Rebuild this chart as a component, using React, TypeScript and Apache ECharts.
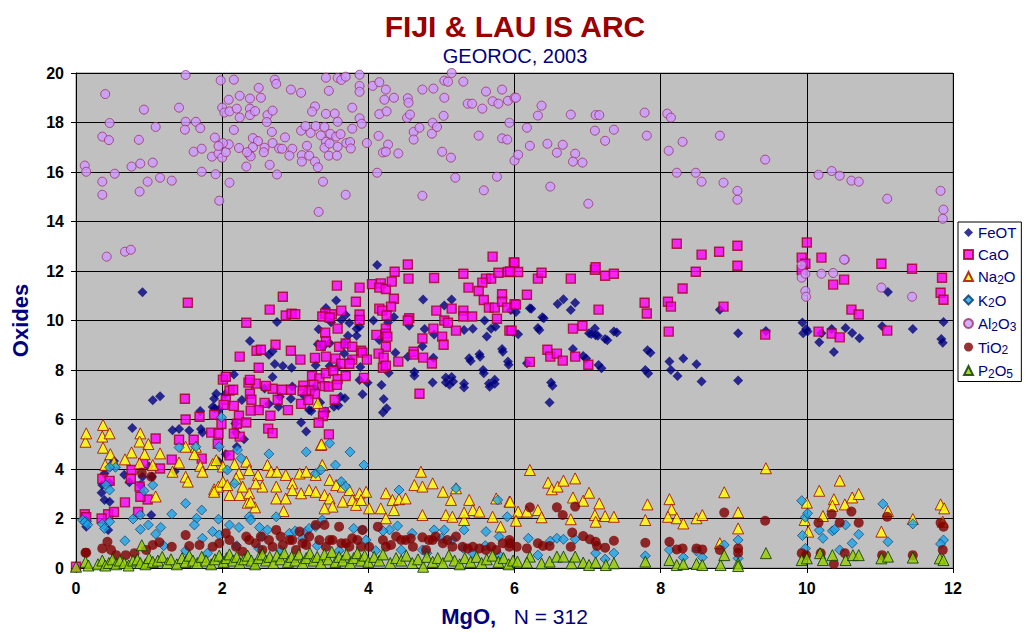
import React, { useEffect, useRef } from "react";
import * as echarts from "echarts";

const seriesNames = ["FeOT", "CaO", "Na2O", "K2O", "Al2O3", "TiO2", "P2O5"];

const feot: number[][] = [
  [0.91,11.14],[1.05,6.78],[1.15,6.94],[0.77,5.66],[1.32,5.57],[1.41,5.62],[1.55,5.56],[1.71,5.62],[1.73,5.47],[1.70,6.34],
  [1.89,6.84],[1.90,6.45],[1.92,7.04],[2.16,7.82],[2.04,7.02],[1.87,6.51],[1.96,6.41],[2.18,5.84],[2.19,5.47],[2.27,6.79],
  [2.38,9.17],[2.75,9.94],[2.69,8.76],[2.64,8.62],[2.72,8.24],[2.83,8.16],[2.95,8.09],[2.69,7.72],[2.96,7.33],[2.58,7.25],
  [2.64,6.63],[2.77,6.52],[2.94,6.84],[2.79,6.92],[3.08,5.88],[3.15,5.52],[3.22,6.34],[3.12,6.96],[3.26,7.28],[3.32,9.65],
  [3.42,10.51],[3.56,10.81],[3.49,9.93],[3.63,10.02],[3.69,10.22],[3.74,9.90],[3.84,9.67],[3.88,9.75],[3.84,9.38],[3.72,9.38],
  [3.67,9.08],[3.47,9.08],[3.38,8.94],[3.31,9.04],[3.28,8.19],[3.47,8.16],[3.58,8.11],[3.67,8.67],[3.76,8.40],[3.68,6.86],
  [3.62,6.92],[3.59,6.57],[3.53,6.52],[3.42,6.32],[3.34,6.69],[3.19,6.38],[3.92,7.02],[3.99,7.48],[3.88,7.60],[3.89,8.12],
  [4.12,12.24],[4.07,10.0],[4.35,10.14],[4.27,9.92],[4.37,8.70],[4.15,9.21],[4.18,7.39],[4.21,6.83],[4.25,6.45],[4.20,6.28],
  [4.28,7.88],[4.54,8.54],[4.63,7.92],[4.63,7.77],[4.88,7.50],[5.06,7.70],[5.14,7.72],[5.31,7.45],[5.65,7.45],[5.73,7.61],
  [5.57,8.0],[5.38,8.47],[5.52,8.64],[5.83,8.85],[5.91,8.34],[5.68,9.67],[5.74,9.75],[5.62,9.35],[5.59,10.0],[5.43,9.67],
  [5.31,9.62],[5.04,10.61],[5.14,10.85],[4.77,9.66],[4.75,10.85],[4.90,9.43],[4.89,8.50],[4.56,9.79],[4.74,8.96],
  [6.21,10.49],[6.02,10.34],[5.95,10.42],[6.38,10.13],[6.59,10.67],[6.67,10.86],[6.77,10.42],[6.83,10.72],[6.32,9.70],[6.05,9.44],
  [5.98,9.55],[7.02,9.48],[7.11,9.40],[7.10,9.68],[7.24,9.25],[7.36,9.56],[6.80,8.85],[6.94,8.57],[7.15,8.20],[7.82,8.80],
  [7.79,8.0],[8.12,8.34],[8.14,8.0],[8.23,7.76],[8.31,8.46],[8.49,8.23],[8.56,7.54],[9.06,7.58],[9.06,9.48],[6.50,7.50],
  [6.17,8.27],[8.81,10.43],[9.44,9.58],[9.94,9.92],[9.99,9.66],[9.95,9.48],[10.01,9.56],[10.20,9.48],[10.17,9.12],[10.37,8.73],
  [10.34,9.66],[10.53,9.70],[10.62,9.49],[10.72,9.28],[11.03,9.77],[11.11,11.15],[11.45,9.66],[11.84,9.25],[11.86,9.10],[11.87,9.94],
  [5.06,7.49],[5.11,7.40],[5.16,7.54],[5.31,7.29],[5.66,7.32],[5.73,7.44],[5.40,8.36],[5.53,8.54],[5.84,8.74],[5.92,8.21],
  [5.58,7.87],[6.48,6.69],[6.52,7.36],[6.23,10.47],[6.40,10.09],[6.34,9.62],[7.05,9.45],[7.14,9.38],[7.27,9.2],[7.40,9.52],
  [6.98,8.46],[7.19,8.07],[7.86,8.70],[7.83,7.86],
  [0.52,4.32],[0.39,3.82],[0.36,3.35],[0.46,3.42],[0.35,3.04],[0.39,2.75],[0.46,2.68],[0.44,1.54],[0.14,1.67],[0.66,3.77],
  [0.73,3.46],[0.91,3.69],[1.03,2.14],[1.04,3.69],[0.88,3.35],[0.46,4.09],[0.14,1.80],[1.00,4.10],[1.35,3.90],[2.05,4.60],
  [2.20,4.90],[2.30,5.20],[1.95,4.30]
];

const cao: number[][] = [
  [0.0,0.05],[1.53,10.72],[2.83,10.96],[2.65,10.44],[2.87,10.2],[2.95,10.27],[3.0,10.25],[2.33,9.91],[2.73,9.02],[2.47,8.78],
  [2.53,8.82],[2.24,8.54],[2.94,8.78],[3.07,8.42],[2.50,8.09],[3.57,11.41],[3.88,11.33],[3.83,10.76],[3.63,10.4],[3.50,10.25],
  [3.41,10.28],[3.37,10.16],[3.47,10.12],[3.88,10.24],[3.88,10.02],[3.58,9.67],[3.41,9.51],[3.42,9.15],[3.35,8.98],[3.60,8.94],
  [3.69,9.07],[3.78,8.94],[3.90,8.78],[3.92,8.70],[3.98,8.42],[3.27,8.49],[3.42,8.54],[3.55,8.46],[3.63,8.25],[3.78,8.42],
  [3.74,8.25],[3.23,7.76],[3.33,7.66],[3.42,7.87],[3.52,7.97],[3.58,7.63],[3.69,7.76],[3.94,7.68],[3.25,7.4],[3.11,7.37],
  [3.19,7.17],[3.27,7.03],[3.40,7.35],[3.46,7.33],[3.57,7.40],[3.08,6.63],[3.18,6.79],[3.54,6.80],[3.39,6.30],[3.38,6.14],
  [3.32,5.87],[3.46,5.4],[3.10,7.16],[2.94,7.2],[2.82,7.2],[2.69,7.24],[2.60,7.36],[2.46,7.45],[2.38,7.04],[2.40,6.80],
  [2.58,6.67],[2.76,6.80],[2.90,6.38],[2.50,6.38],[2.39,6.36],[2.66,6.15],[2.63,5.63],[2.69,5.45],[2.36,7.49],[2.38,7.6],
  [2.01,7.61],[2.05,7.73],[2.10,7.17],[2.15,7.2],[2.05,6.80],[2.02,6.59],[2.16,6.55],[2.23,6.15],[2.33,5.88],[2.20,5.83],
  [1.99,5.82],[1.89,6.19],[1.85,5.47],[1.95,5.43],[2.24,5.31],[2.16,5.43],[1.49,6.84],[1.50,6.0],[1.69,6.11],[1.41,5.18],
  [1.61,5.18],[1.09,5.23],[1.94,5.02],
  [4.05,11.47],[4.17,11.5],[4.15,11.33],[4.24,11.27],[4.32,11.57],[4.36,11.97],[4.54,12.26],[4.55,11.69],[4.90,11.72],[5.30,11.89],
  [5.70,12.58],[5.99,12.35],[5.61,11.69],[5.68,11.69],[5.78,11.93],[5.91,11.96],[5.56,11.53],[5.51,11.19],[4.35,10.88],[4.31,10.56],
  [4.15,10.48],[4.19,10.4],[4.25,10.2],[4.56,10.09],[4.54,10.0],[4.93,10.4],[5.14,10.48],[5.30,10.4],[5.30,10.16],[5.42,10.16],
  [5.37,11.33],[5.04,10.0],[5.09,9.91],[5.20,9.59],[4.89,9.67],[5.01,9.35],[5.03,9.02],[4.74,9.27],[4.62,8.74],[4.62,8.62],
  [4.75,8.50],[4.87,8.26],[5.58,10.83],[5.65,10.52],[5.73,10.52],[5.83,11.06],[5.83,10.76],[5.90,10.52],[5.76,10.07],[5.93,9.59],
  [6.0,10.66],[4.11,9.42],[4.24,9.67],[4.24,9.47],[4.26,9.35],[4.24,8.94],[4.14,8.66],[4.21,8.50],[4.20,8.09],[4.24,8.17],
  [4.41,8.34],[4.70,7.04],
  [6.0,12.34],[6.05,11.96],[5.94,11.98],[6.32,11.69],[6.37,11.93],[6.77,11.69],[7.10,12.05],[7.11,12.15],[7.24,11.81],[7.36,11.89],
  [6.17,11.04],[6.02,10.64],[7.15,10.44],[7.78,10.72],[7.81,10.28],[8.10,10.76],[8.14,10.56],[8.11,9.55],[8.22,13.10],[8.56,12.66],
  [8.80,12.78],[9.05,13.02],[9.05,12.21],[8.48,11.97],[8.30,11.29],[8.86,10.56],[9.43,9.43],[10.0,13.15],[9.93,12.54],[9.98,12.29],
  [9.93,12.04],[10.20,12.54],[10.36,11.45],[10.51,11.65],[10.61,10.44],[10.71,10.24],[10.16,9.55],[10.34,9.47],[10.45,9.32],[11.02,12.29],
  [11.10,9.59],[11.44,12.09],[11.85,11.73],[11.83,11.12],[11.87,10.84],[6.80,9.67],[6.93,9.79],[6.45,8.82],[6.49,8.54],[6.58,8.66],
  [6.66,8.38],[6.83,8.54],[7.01,8.21],[6.21,8.33],[5.96,9.59],
  [0.36,3.6],[0.46,3.52],[0.76,3.96],[0.87,3.29],[0.98,2.77],[0.88,2.88],[0.67,2.65],[0.75,3.6],[1.15,4.02],[1.31,4.38],
  [1.72,4.42],[0.12,2.17],[0.14,2.05],[0.44,2.17],[0.52,2.26],[0.85,2.26],[0.35,2.0],[0.92,4.23],[2.10,4.55]
];

const na2o: number[][] = [
  [0.13,5.10],[0.14,5.44],[0.37,5.78],[0.36,5.31],[0.46,5.44],[0.88,5.44],[0.87,5.11],[0.99,5.01],[0.37,4.86],[0.47,4.60],
  [0.52,4.27],[0.40,4.16],[0.76,4.67],[0.67,4.39],[0.94,4.60],[1.15,4.63],[1.05,4.16],[1.09,2.89],[1.32,3.89],[1.41,4.26],
  [1.50,3.69],[1.53,3.49],[1.50,4.90],[1.64,4.90],[1.62,4.60],[1.70,4.13],[1.73,3.89],[0.87,4.23],
  [1.87,4.20],[1.92,4.36],[2.01,4.10],[2.17,4.20],[2.23,3.82],[2.33,4.30],[2.37,3.96],[2.49,3.76],[2.62,4.16],[2.67,3.89],
  [2.75,3.89],[2.87,3.76],[2.96,3.42],[3.06,3.82],[3.15,3.89],[3.28,3.76],[3.37,4.16],[3.47,3.56],[3.56,3.35],[3.65,3.29],
  [3.74,3.15],[3.88,3.02],[3.97,3.08],[1.89,3.18],[1.95,3.29],[2.10,2.95],[2.24,2.95],[2.35,2.64],[2.45,2.45],[2.55,3.29],
  [2.74,2.81],[2.87,2.81],[2.96,3.15],[3.08,3.02],[3.19,3.15],[3.28,3.08],[3.40,2.95],[3.47,2.81],[3.51,2.48],[3.65,2.68],
  [3.78,2.75],[3.83,2.55],[3.90,2.75],[2.37,3.02],[2.39,2.68],[2.46,3.42],[2.74,3.29],[2.01,3.49],[2.07,3.35],[2.19,3.62],
  [2.28,3.29],[1.89,3.08],[3.35,4.97],[2.84,2.30],[3.40,2.41],[3.31,6.67],[3.36,5.0],
  [4.72,3.89],[4.63,3.35],[4.74,3.29],[4.88,3.42],[5.02,3.08],[5.13,2.75],[5.38,2.75],[5.20,3.22],[5.75,2.81],[5.93,2.68],
  [4.01,2.41],[4.17,2.41],[4.24,3.02],[4.33,2.75],[4.42,2.78],[4.51,2.81],[4.74,2.14],[4.24,2.01],[4.35,2.34],[5.06,2.14],
  [5.31,1.94],[5.43,2.34],[5.52,2.28],[5.70,2.07],[5.81,1.67],[5.31,2.24],[5.15,2.07],
  [6.21,3.96],[6.46,3.45],[6.51,3.18],[6.59,3.29],[6.67,3.53],[6.83,3.62],[6.80,2.85],[6.94,2.72],[7.02,3.04],[7.16,2.61],
  [5.94,2.68],[6.05,2.28],[6.17,2.28],[6.32,2.34],[6.37,2.05],[6.02,1.91],[6.77,1.97],[7.10,2.14],[7.11,1.87],[7.24,2.10],
  [7.36,2.07],[7.82,2.57],[7.79,1.94],[8.12,2.78],[8.15,2.37],[8.10,2.07],[8.22,2.01],[8.31,1.80],[8.49,2.01],[8.57,2.14],
  [8.87,3.06],[9.06,2.25],[9.06,1.60],[8.81,1.0],[9.44,4.03],[10.0,2.64],[9.97,1.94],[10.02,1.47],[10.17,3.12],[10.22,2.10],
  [10.37,2.78],[10.35,2.51],[10.45,3.53],[10.52,2.57],[10.62,2.85],[10.71,2.99],[11.02,1.47],[11.11,2.30],[11.45,1.98],[11.83,2.57],
  [11.88,2.41],[11.86,1.87]
];

const k2o: number[][] = [
  [0.14,1.87],[0.09,1.94],[0.12,1.85],[0.16,1.75],[0.36,1.78],[0.39,1.60],[0.46,1.87],[0.54,4.07],[0.46,4.07],[0.41,3.35],
  [0.46,3.15],[0.67,1.10],[0.78,1.98],[0.88,2.14],[0.88,1.56],[0.99,1.74],[1.09,1.37],[1.16,1.64],[0.93,3.12],[1.05,3.35],
  [1.31,2.18],[1.50,2.61],[1.65,2.01],[1.72,2.34],[1.62,1.74],[1.73,1.20],[1.41,4.87],[1.64,4.90],[1.99,6.09],[1.96,4.90],
  [1.95,1.97],[1.87,1.47],[1.96,1.34],[2.10,1.74],[2.23,1.64],[2.37,2.07],[2.39,1.94],[2.51,1.64],[2.55,1.27],[2.62,1.54],
  [2.74,2.07],[2.92,1.40],[3.10,1.20],[3.15,1.47],[3.19,1.60],[3.28,1.67],[3.37,1.94],[2.21,4.77],[2.26,4.43],[2.07,3.96],
  [2.17,3.42],[2.64,4.61],[3.15,4.69],[3.47,5.04],[3.75,4.69],[3.55,4.16],[3.28,3.82],[3.35,3.96],[3.94,4.16],[3.63,3.49],
  [3.69,3.29],[3.97,1.13],[3.92,1.54],[4.29,1.54],[4.42,3.15],[4.45,0.73],[4.90,1.54],[5.04,1.54],[5.20,3.22],[5.31,1.54],
  [5.15,1.13],[5.61,1.47],[5.77,2.75],[5.90,2.07],[4.74,0.73],[5.43,0.59],[5.79,1.27],
  [2.20,0.90],[2.50,0.80],[2.80,0.70],[3.00,1.50],[3.30,0.90],[3.60,0.70],[3.80,1.60],[4.10,0.70],[4.40,1.70],[4.60,1.40],
  [4.80,0.60],[5.00,1.20],[5.30,0.80],[5.60,0.90],[5.80,0.50],[4.20,1.50],[1.20,0.90],[1.50,0.70],[1.80,0.60],
  [6.19,1.20],[6.49,1.09],[6.58,1.20],[6.67,1.16],[6.83,1.17],[6.32,0.52],[7.11,0.60],[7.24,0.36],[7.36,0.60],[7.79,0.49],
  [8.12,0.73],[8.31,0.43],[8.49,0.69],[8.57,0.43],[8.87,0.93],[9.06,1.13],[9.06,0.39],[9.93,2.72],[9.98,2.05],[10.01,2.21],
  [9.94,1.31],[9.98,0.79],[10.17,1.53],[10.22,1.20],[10.35,1.50],[10.38,1.56],[10.53,1.74],[10.45,0.73],[10.62,1.00],[10.71,1.36],
  [11.04,2.59],[11.11,1.06],[11.45,1.78],[11.87,1.13],[11.83,0.97]
];

const al2o3: number[][] = [
  [1.50,19.92],[0.40,19.15],[0.93,18.52],[0.46,17.98],[1.09,17.82],[1.41,18.6],[1.50,18.03],[1.64,18.03],[1.70,17.77],[1.49,17.71],
  [0.36,17.43],[0.45,17.29],[0.86,17.30],[0.12,16.26],[0.14,16.01],[0.53,15.93],[0.76,16.22],[0.88,16.34],[1.05,16.38],[0.36,15.61],
  [0.36,15.08],[0.87,15.21],[0.98,15.61],[1.15,15.77],[1.31,15.65],[1.72,16.01],[1.61,16.82],[1.72,16.94],[1.90,17.39],[1.91,15.91],
  [1.96,14.84],[0.42,12.58],[0.67,12.78],[0.75,12.86],[1.98,19.7],[2.16,19.73],[2.09,18.92],[2.0,18.6],[2.03,18.4],[2.1,18.45],
  [2.24,19.08],[2.2,18.56],[2.24,18.2],[2.16,17.7],[1.86,16.62],[1.95,16.75],[2.0,16.58],[2.05,16.8],[2.09,17.12],[2.01,17.17],
  [1.95,17.05],[2.23,16.97],[2.33,16.22],[2.10,15.57],[2.38,18.97],[2.38,18.56],[2.38,18.3],[2.45,18.46],[2.50,19.4],[2.53,19.0],
  [2.72,19.73],[2.74,19.56],[2.42,17.37],[2.49,17.25],[2.42,17.0],[2.37,16.7],[2.39,16.63],[2.34,16.8],[2.62,18.3],[2.61,18.02],
  [2.69,18.48],[2.68,17.62],[2.69,17.17],[2.58,16.98],[2.57,16.8],[2.65,16.29],[2.75,15.9],[2.78,16.95],[2.82,16.94],[2.96,16.94],
  [2.92,16.66],[2.86,17.4],[2.94,19.33],[3.08,19.2],[3.08,17.67],[3.09,16.68],[3.09,16.42],[3.19,16.66],[3.16,17.06],[3.21,17.58],
  [3.14,17.86],[3.27,18.65],[3.23,18.44],[3.28,17.86],[3.27,16.42],[3.31,16.19],[3.35,17.48],[3.38,15.61],[3.32,14.39],[3.42,19.81],
  [3.58,19.8],[3.63,19.72],[3.69,19.85],[3.88,19.93],[3.46,19.28],[3.54,18.36],[3.58,18.03],[3.42,18.35],[3.40,17.82],[3.48,17.54],
  [3.56,17.43],[3.62,17.53],[3.42,17.22],[3.40,16.98],[3.47,17.15],[3.58,17.02],[3.46,16.66],[3.57,16.66],[3.70,17.17],[3.75,17.21],
  [3.76,16.95],[3.69,15.08],[3.78,18.6],[3.78,17.75],[3.88,18.17],[3.91,17.95],[3.88,19.48],[3.88,19.24],[3.98,17.17],[4.06,19.48],
  [4.15,19.63],[4.24,19.33],[4.22,18.92],[4.35,19.0],[4.15,18.34],[4.25,18.45],[4.14,17.46],[4.27,17.11],[4.20,16.79],[4.24,16.82],
  [4.41,16.75],[4.12,15.97],
  [4.54,18.98],[4.55,18.80],[4.53,18.19],[4.57,18.32],[4.62,17.62],[4.62,17.31],[4.70,17.79],[4.74,19.33],[4.89,19.37],[4.87,17.55],
  [4.88,17.99],[4.94,17.82],[5.04,19.69],[5.09,19.65],[5.04,19.0],[5.14,20.0],[5.03,18.27],[5.01,16.82],[5.13,16.58],[4.74,15.04],
  [5.19,15.77],[5.30,19.65],[5.36,18.76],[5.42,18.76],[5.56,18.56],[5.61,19.25],[5.70,18.86],[5.78,18.76],[5.83,19.33],[5.91,18.88],
  [5.93,17.99],[5.51,17.47],[5.83,17.36],[5.90,17.31],[5.58,15.26],[5.76,15.81],[6.0,16.46],[6.0,19.0],
  [6.02,19.0],[6.37,18.68],[6.32,18.28],[6.77,18.32],[7.11,18.3],[7.16,18.3],[7.78,18.40],[8.09,18.36],[8.14,18.2],[6.17,17.79],
  [7.10,17.67],[7.36,17.71],[7.81,17.47],[6.21,17.06],[6.45,17.14],[6.66,17.1],[6.58,16.78],[6.83,16.74],[7.24,17.26],[6.05,16.70],
  [6.80,16.42],[6.93,16.38],[6.49,15.41],[7.01,14.72],[8.11,16.86],[8.30,17.22],[8.81,17.47],[9.43,16.50],[8.22,15.97],[8.48,15.97],
  [8.56,15.61],[8.86,15.57],[9.05,15.24],[9.05,14.88],[10.16,15.89],[10.34,16.04],[10.45,15.85],[10.61,15.65],[10.71,15.61],[11.10,14.92],
  [11.83,15.24],[11.87,14.48],[11.86,14.11],[10.52,12.46],
  [9.93,12.24],[9.93,11.73],[9.98,11.89],[9.98,11.19],[9.99,10.96],[10.20,11.89],[10.36,11.92],[10.51,12.46],[11.02,11.33],[11.44,10.96]
];

const tio2: number[][] = [
  [0.14,0.62],[0.90,3.85],[1.03,3.69],[0.13,0.62],[0.43,1.06],[0.36,0.79],[0.48,0.73],[0.55,0.52],[0.68,0.52],[0.80,0.60],
  [0.96,0.73],[1.05,0.93],[1.14,1.04],[1.31,0.86],[1.50,1.33],[1.55,0.89],[1.69,0.93],[1.87,0.86],[1.96,1.00],[2.10,1.13],
  [2.19,0.86],[2.28,0.66],[2.37,1.13],[2.46,1.00],[2.55,0.73],[2.64,1.13],[2.74,1.54],[2.83,0.93],[2.92,1.13],[3.01,0.73],
  [3.10,1.00],[3.19,1.27],[3.28,1.74],[3.40,1.74],[3.47,1.13],[3.60,1.67],[3.69,1.00],[3.78,1.20],[3.92,1.54],[4.01,0.86],
  [4.13,1.67],[4.20,1.13],[4.31,0.93],[4.38,1.27],[4.51,1.13],[4.58,1.20],[4.74,1.24],[4.88,1.13],[4.92,1.27],[5.02,1.00],
  [5.15,0.86],[5.29,0.86],[5.43,0.86],[5.52,0.79],[5.68,0.86],[5.84,1.00],[5.93,1.13],
  [2.05,1.40],[2.33,1.27],[2.53,1.27],[2.69,0.86],[2.80,1.27],[2.96,1.13],[3.06,1.47],[3.15,0.93],[3.33,1.13],[3.42,0.86],
  [3.51,1.13],[3.63,1.00],[3.74,0.86],[3.85,1.13],[3.90,0.86],[4.24,0.86],[4.45,1.13],[4.61,0.86],[4.79,0.73],[4.83,1.13],
  [5.08,1.13],[5.20,1.27],[5.36,0.79],[5.61,0.73],[5.75,0.73],[5.93,0.86],
  [6.21,2.45],[6.58,2.45],[6.66,2.14],[6.83,2.48],[5.94,1.00],[6.03,0.86],[6.17,0.79],[6.32,1.00],[6.39,0.89],[6.48,0.89],
  [6.77,0.86],[6.79,1.43],[6.94,1.29],[7.03,1.16],[7.11,1.06],[7.13,0.89],[7.24,0.82],[7.36,1.10],[7.79,1.02],[8.12,1.06],
  [8.22,0.75],[8.30,0.79],[8.49,0.79],[8.57,0.75],[8.81,0.73],[8.87,2.24],[9.06,0.79],[9.06,0.62],[9.43,1.91],[9.93,0.60],
  [9.99,0.52],[10.19,0.60],[10.16,1.83],[10.34,2.18],[10.45,1.83],[10.52,0.60],[10.37,0.16],[10.61,2.28],[10.71,1.83],[11.03,0.52],
  [11.10,2.07],[11.45,0.52],[11.83,1.83],[11.87,1.67],[11.86,0.73]
];

const p2o5: number[][] = [
  [0.0,0.05],[0.13,0.25],[0.17,0.1],[0.3,0.15],[0.36,0.3],[0.4,0.1],[0.45,0.2],[0.5,0.35],[0.55,0.15],[0.6,0.3],
  [0.66,0.2],[0.72,0.1],[0.78,0.3],[0.84,0.35],[0.88,0.2],[0.9,0.92],[0.95,0.15],[1.0,0.4],[1.05,0.25],[1.12,0.3],
  [1.18,0.45],[1.25,0.2],[1.3,0.35],[1.38,0.15],[1.45,0.4],[1.5,0.25],[1.55,0.5],[1.6,0.3],[1.66,0.2],[1.72,0.45],
  [1.78,0.3],[1.85,0.15],[1.9,0.35],[1.96,0.5],[2.02,0.25],[2.06,0.4],[2.1,0.55],[2.15,0.3],[2.2,0.45],[2.24,0.2],
  [2.3,0.35],[2.35,0.5],[2.4,0.3],[2.45,0.15],[2.5,0.4],[2.55,0.55],[2.6,0.3],[2.65,0.45],[2.7,0.2],[2.75,0.5],
  [2.8,0.35],[2.85,0.6],[2.9,0.25],[2.95,0.45],[3.0,0.3],[3.05,0.55],[3.1,0.2],[3.15,0.4],[3.2,0.6],[3.25,0.3],
  [3.3,0.45],[3.35,0.2],[3.4,0.55],[3.45,0.35],[3.5,0.65],[3.55,0.25],[3.6,0.45],[3.65,0.3],[3.7,0.55],[3.75,0.2],
  [3.8,0.4],[3.85,0.6],[3.9,0.3],[3.95,0.5],[4.0,0.25],[4.08,0.45],[4.15,0.3],[4.2,0.55],[4.3,0.2],[4.38,0.4],
  [4.45,0.3],[4.52,0.5],[4.6,0.2],[4.68,0.35],[4.75,0.05],[4.8,0.45],[4.88,0.25],[4.95,0.4],[5.02,0.2],[5.1,0.5],
  [5.18,0.3],[5.25,0.15],[5.32,0.4],[5.4,0.25],[5.48,0.45],[5.55,0.2],[5.62,0.35],[5.7,0.5],[5.78,0.25],[5.85,0.4],
  [5.92,0.15],[5.98,0.3],
  [6.21,0.46],[6.04,0.26],[6.17,0.22],[6.37,0.19],[6.48,0.26],[6.58,0.46],[6.67,0.46],[6.78,0.19],[6.83,0.46],[6.94,0.22],
  [7.02,0.12],[7.11,0.22],[7.25,0.12],[7.36,0.19],[7.79,0.26],[8.12,0.32],[8.22,0.12],[8.31,0.16],[8.49,0.16],[8.57,0.12],
  [8.82,0.12],[8.87,0.52],[9.06,0.19],[9.06,0.08],[9.44,0.60],[9.93,0.32],[10.0,0.39],[10.18,0.60],[10.22,0.32],[10.35,0.52],
  [10.53,0.32],[10.63,0.52],[10.71,0.52],[11.02,0.39],[11.11,0.46],[11.45,0.42],[11.82,0.39],[11.87,0.32]
];

const FONT = "Arial, 'Liberation Sans', Helvetica, sans-serif";

function legendLabel(name: string): string {
  const parts = name.match(/(\d+|\D+)/g) || [name];
  return parts.map((p) => (/^\d+$/.test(p) ? `{s|${p}}` : `{n|${p}}`)).join("");
}

export default function App() {
  const ref = useRef<HTMLDivElement>(null);
  useEffect(() => {
    if (!ref.current) return;
    const chart = echarts.init(ref.current, undefined, { renderer: "svg" });
    const styles: any[] = [
      { data: feot, symbol: "diamond", symbolSize: 10, itemStyle: { color: "#000080" } },
      { data: cao, symbol: "rect", symbolSize: 9, itemStyle: { color: "#FF00FF", borderColor: "#A00020", borderWidth: 1.4 } },
      { data: na2o, symbol: "triangle", symbolSize: 11, itemStyle: { color: "#FFFF00", borderColor: "#A00000", borderWidth: 1 } },
      { data: k2o, symbol: "diamond", symbolSize: 10, itemStyle: { color: "#1EA4E6", borderColor: "#003366", borderWidth: 0.8 } },
      { data: al2o3, symbol: "circle", symbolSize: 9, itemStyle: { color: "#CC99FF", borderColor: "#993366", borderWidth: 1 } },
      { data: tio2, symbol: "circle", symbolSize: 10, itemStyle: { color: "#800000" } },
      { data: p2o5, symbol: "triangle", symbolSize: 11, itemStyle: { color: "#99CC00", borderColor: "#003300", borderWidth: 1 } },
    ];
    const option: any = {
      animation: false,
      backgroundColor: "#FFFFFF",
      title: {
        text: "FIJI & LAU IS ARC",
        subtext: "GEOROC, 2003",
        left: "center",
        top: 6,
        itemGap: 5,
        textStyle: { fontFamily: FONT, fontSize: 30, fontWeight: "bold", color: "#990000" },
        subtextStyle: { fontFamily: FONT, fontSize: 20, color: "#000080" },
      },
      legend: {
        orient: "vertical",
        left: 958,
        top: 222,
        padding: [3, 5, 2, 5],
        itemGap: 7,
        itemWidth: 9,
        itemHeight: 9,
        backgroundColor: "#FFFFFF",
        borderColor: "#000000",
        borderWidth: 1,
        data: seriesNames,
        formatter: (name: string) => legendLabel(name),
        textStyle: {
          fontFamily: FONT,
          color: "#000080",
          fontSize: 15,
          rich: {
            n: { fontFamily: FONT, fontSize: 15, color: "#000080", lineHeight: 18 },
            s: { fontFamily: FONT, fontSize: 12, color: "#000080", lineHeight: 10, verticalAlign: "bottom" },
          },
        },
      },
      grid: {
        left: 76,
        right: 77,
        top: 73,
        bottom: 66,
        show: true,
        backgroundColor: "#C0C0C0",
        borderColor: "#808080",
        borderWidth: 1,
      },
      xAxis: {
        type: "value",
        min: 0,
        max: 12,
        interval: 2,
        name: "{b|MgO,}{n|   N = 312}",
        nameLocation: "middle",
        nameGap: 37,
        nameTextStyle: {
          rich: {
            b: { fontFamily: FONT, fontSize: 22, fontWeight: "bold", color: "#000080" },
            n: { fontFamily: FONT, fontSize: 21, color: "#000080" },
          },
        },
        axisLine: { show: true, lineStyle: { color: "#000000", width: 1 } },
        axisTick: { show: true, length: 5, lineStyle: { color: "#000000" } },
        axisLabel: { fontFamily: FONT, fontSize: 16, fontWeight: "bold", color: "#000000", margin: 12 },
        splitLine: { show: true, lineStyle: { color: "#000000", width: 1 } },
      },
      yAxis: {
        type: "value",
        min: 0,
        max: 20,
        interval: 2,
        name: "Oxides",
        nameLocation: "middle",
        nameGap: 45,
        nameTextStyle: { fontFamily: FONT, fontSize: 22, fontWeight: "bold", color: "#000080" },
        axisLine: { show: true, lineStyle: { color: "#000000", width: 1 } },
        axisTick: { show: true, length: 5, lineStyle: { color: "#000000" } },
        axisLabel: { fontFamily: FONT, fontSize: 16, fontWeight: "bold", color: "#000000", margin: 12 },
        splitLine: { show: true, lineStyle: { color: "#000000", width: 1 } },
      },
      series: seriesNames.map((name, i) => ({
        name,
        type: "scatter",
        data: styles[i].data,
        symbol: styles[i].symbol,
        symbolSize: styles[i].symbolSize,
        itemStyle: styles[i].itemStyle,
        emphasis: { disabled: true },
        clip: false,
      })),
    };
    chart.setOption(option);
    return () => chart.dispose();
  }, []);
  return (
    <div
      ref={ref}
      style={{ position: "absolute", left: 0, top: 0, width: 1030, height: 634 }}
    />
  );
}
